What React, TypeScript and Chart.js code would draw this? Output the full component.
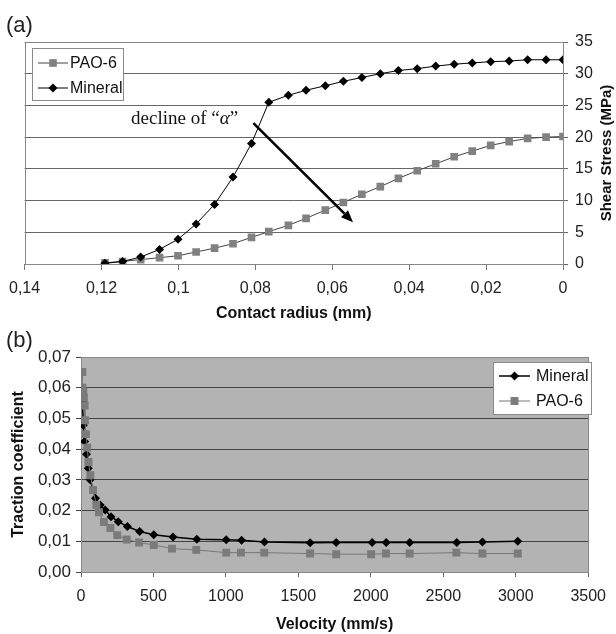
import React, { useEffect, useRef } from "react";
import { Chart, registerables } from "chart.js";
Chart.register(...registerables);

const FONT = 'Arial, "Liberation Sans", sans-serif';
const SERIF = '"Times New Roman", "Liberation Serif", serif';

// ---------- Panel (a): shear stress vs contact radius ----------
const radiusMm = [0.1191, 0.1145, 0.1098, 0.1049, 0.1001, 0.0954, 0.0906, 0.0858, 0.081, 0.0765, 0.0714, 0.0668, 0.0618, 0.0571, 0.0523, 0.0475, 0.0428, 0.0379, 0.0331, 0.0283, 0.0236, 0.0188, 0.014, 0.0092, 0.0044, 0];
const mineralShear = [0.1, 0.4, 1.1, 2.3, 3.9, 6.3, 9.4, 13.7, 19.0, 25.5, 26.6, 27.4, 28.1, 28.8, 29.4, 30.0, 30.5, 30.8, 31.2, 31.5, 31.7, 31.9, 32.0, 32.2, 32.2, 32.2];
const paoShear = [0.2, 0.4, 0.7, 1.0, 1.3, 1.9, 2.5, 3.2, 4.2, 5.1, 6.1, 7.2, 8.5, 9.7, 11.0, 12.2, 13.5, 14.7, 15.8, 16.9, 17.8, 18.7, 19.3, 19.8, 20.0, 20.1];
const arrowFrom = [0.0805, 22.2];
const arrowTo = [0.0546, 6.6];
const noteAt = [0.0984, 22.9];

// ---------- Panel (b): traction coefficient vs velocity ----------
const mineralVel = [10, 16, 25, 38, 50, 63, 100, 133, 167, 207, 257, 320, 405, 502, 635, 799, 1002, 1108, 1266, 1581, 1761, 2009, 2106, 2268, 2593, 2770, 3014];
const mineralTrac = [0.0555, 0.0478, 0.0425, 0.0383, 0.0338, 0.03, 0.024, 0.0218, 0.0202, 0.018, 0.0164, 0.0148, 0.0132, 0.0121, 0.0114, 0.0107, 0.0105, 0.0103, 0.0098, 0.0095, 0.0096, 0.0096, 0.0096, 0.0096, 0.0096, 0.0098, 0.01];
const paoVel = [9, 10, 16, 20, 25, 27, 34, 43, 52, 65, 83, 106, 124, 158, 203, 250, 315, 401, 502, 628, 795, 1002, 1104, 1264, 1581, 1761, 2002, 2104, 2268, 2590, 2770, 3014];
const paoTrac = [0.0651, 0.06, 0.0586, 0.0568, 0.0542, 0.0494, 0.0449, 0.0405, 0.0358, 0.0315, 0.0267, 0.0218, 0.0194, 0.0163, 0.0143, 0.012, 0.0106, 0.0096, 0.0088, 0.0076, 0.0072, 0.0063, 0.0063, 0.0063, 0.006, 0.0058, 0.0058, 0.006, 0.006, 0.0063, 0.006, 0.006];

function drawMarker(ctx: CanvasRenderingContext2D, style: string, x: number, y: number, r: number, color: string) {
  ctx.fillStyle = color;
  ctx.beginPath();
  if (style === "rect") {
    const s = r * Math.SQRT1_2;
    ctx.rect(x - s, y - s, 2 * s, 2 * s);
  } else {
    ctx.moveTo(x - r, y);
    ctx.lineTo(x, y - r);
    ctx.lineTo(x + r, y);
    ctx.lineTo(x, y + r);
    ctx.closePath();
  }
  ctx.fill();
}

function legendPlugin(box: any, order: number[]) {
  return {
    id: "boxLegend",
    afterDraw(chart: any) {
      const ctx = chart.ctx as CanvasRenderingContext2D;
      ctx.save();
      ctx.fillStyle = "#fff";
      ctx.fillRect(box.x, box.y, box.w, box.h);
      ctx.strokeStyle = "#8a8a8a";
      ctx.lineWidth = 1;
      ctx.strokeRect(box.x + 0.5, box.y + 0.5, box.w, box.h);
      order.forEach((di, i) => {
        const ds = chart.data.datasets[di];
        const cy = box.y + box.row0 + i * box.rowH;
        ctx.strokeStyle = ds.borderColor;
        ctx.lineWidth = ds.borderWidth;
        ctx.beginPath();
        ctx.moveTo(box.x + box.lx0, cy);
        ctx.lineTo(box.x + box.lx1, cy);
        ctx.stroke();
        drawMarker(ctx, ds.pointStyle, box.x + (box.lx0 + box.lx1) / 2, cy, ds.pointRadius, ds.pointBackgroundColor);
        ctx.fillStyle = "#111";
        ctx.font = `16px ${FONT}`;
        ctx.textAlign = "left";
        ctx.textBaseline = "middle";
        ctx.fillText(ds.label, box.x + box.tx, cy + 1);
      });
      ctx.restore();
    },
  };
}

function framePlugin(bg: string | null, color: string) {
  return {
    id: "frame",
    beforeDraw(chart: any) {
      const { ctx, chartArea: a } = chart;
      if (bg) {
        ctx.save();
        ctx.fillStyle = bg;
        ctx.fillRect(a.left, a.top, a.right - a.left, a.bottom - a.top);
        ctx.restore();
      }
    },
    beforeDatasetsDraw(chart: any) {
      const { ctx, chartArea: a } = chart;
      ctx.save();
      ctx.strokeStyle = color;
      ctx.lineWidth = 1;
      ctx.strokeRect(Math.round(a.left) + 0.5, Math.round(a.top) + 0.5, Math.round(a.right - a.left), Math.round(a.bottom - a.top));
      ctx.restore();
    },
  };
}

const annotationPlugin = {
  id: "annot",
  afterDraw(chart: any) {
    const ctx = chart.ctx as CanvasRenderingContext2D;
    const xs = chart.scales.x;
    const ys = chart.scales.y;
    const x0 = xs.getPixelForValue(arrowFrom[0]);
    const y0 = ys.getPixelForValue(arrowFrom[1]);
    const x1 = xs.getPixelForValue(arrowTo[0]);
    const y1 = ys.getPixelForValue(arrowTo[1]);
    ctx.save();
    ctx.strokeStyle = "#000";
    ctx.fillStyle = "#000";
    ctx.lineWidth = 2.6;
    const ang = Math.atan2(y1 - y0, x1 - x0);
    const hl = 12;
    const hw = 5;
    const bx = x1 - hl * Math.cos(ang);
    const by = y1 - hl * Math.sin(ang);
    ctx.beginPath();
    ctx.moveTo(x0, y0);
    ctx.lineTo(bx, by);
    ctx.stroke();
    ctx.beginPath();
    ctx.moveTo(x1, y1);
    ctx.lineTo(bx + hw * Math.sin(ang), by - hw * Math.cos(ang));
    ctx.lineTo(bx - hw * Math.sin(ang), by + hw * Math.cos(ang));
    ctx.closePath();
    ctx.fill();

    // text "decline of “α”"
    const parts: [string, string][] = [
      ["decline of \u201C", `19px ${SERIF}`],
      ["\u03B1", `italic 19px ${SERIF}`],
      ["\u201D", `19px ${SERIF}`],
    ];
    let total = 0;
    parts.forEach(([t, f]) => {
      ctx.font = f;
      total += ctx.measureText(t).width;
    });
    let tx = xs.getPixelForValue(noteAt[0]) - total / 2;
    const ty = ys.getPixelForValue(noteAt[1]);
    ctx.textBaseline = "middle";
    ctx.textAlign = "left";
    ctx.fillStyle = "#111";
    parts.forEach(([t, f]) => {
      ctx.font = f;
      ctx.fillText(t, tx, ty);
      tx += ctx.measureText(t).width;
    });

    // right axis title, reading bottom-to-top
    const a = chart.chartArea;
    ctx.translate(607, (a.top + a.bottom) / 2);
    ctx.rotate(-Math.PI / 2);
    ctx.font = `bold 15px ${FONT}`;
    ctx.textAlign = "center";
    ctx.textBaseline = "middle";
    ctx.fillStyle = "#111";
    ctx.fillText("Shear Stress (MPa)", 0, 0);
    ctx.restore();
  },
};

const fmtA = (v: any) => String(Math.round(Number(v) * 1000) / 1000).replace(".", ",");
const fmtB = (v: any) => Number(v).toFixed(2).replace(".", ",");

export default function App() {
  const refA = useRef<HTMLCanvasElement>(null);
  const refB = useRef<HTMLCanvasElement>(null);

  useEffect(() => {
    const chartA = new Chart(refA.current as HTMLCanvasElement, {
      type: "line",
      data: {
        datasets: [
          {
            label: "Mineral",
            data: radiusMm.map((x, i) => ({ x, y: mineralShear[i] })),
            borderColor: "#000",
            borderWidth: 1,
            pointStyle: "rectRot",
            pointRadius: 4.5,
            pointBackgroundColor: "#000",
            pointBorderWidth: 0,
            tension: 0,
          },
          {
            label: "PAO-6",
            data: radiusMm.map((x, i) => ({ x, y: paoShear[i] })),
            borderColor: "#444",
            borderWidth: 1,
            pointStyle: "rect",
            pointRadius: 5.4,
            pointBackgroundColor: "#818181",
            pointBorderWidth: 0,
            tension: 0,
          },
        ],
      } as any,
      options: {
        responsive: false,
        animation: false,
        devicePixelRatio: 1,
        layout: { padding: { left: 23, top: 42, right: 0, bottom: 0 } },
        plugins: { legend: { display: false }, tooltip: { enabled: false } },
        scales: {
          x: {
            type: "linear",
            reverse: true,
            min: 0,
            max: 0.14,
            ticks: { stepSize: 0.02, color: "#222", font: { family: FONT, size: 16 }, padding: 9, callback: fmtA, maxRotation: 0, autoSkip: false },
            grid: { drawOnChartArea: false, drawTicks: true, tickLength: 6, color: "#777" },
            border: { display: true, color: "#777" },
            title: { display: true, text: "Contact radius (mm)", color: "#111", font: { family: FONT, size: 16, weight: "bold" }, padding: { top: 0, bottom: 2 } },
            afterFit: (s: any) => { s.height = 61; },
          },
          y: {
            position: "right",
            min: 0,
            max: 35,
            ticks: { stepSize: 5, color: "#222", font: { family: FONT, size: 16 }, padding: 7 },
            grid: { color: "#666", drawTicks: true, tickLength: 5 },
            border: { display: true, color: "#777" },
            afterFit: (s: any) => { s.width = 53; },
          },
        },
      } as any,
      plugins: [
        framePlugin(null, "#888"),
        legendPlugin({ x: 32, y: 48, w: 91, h: 52, row0: 15, rowH: 25, lx0: 6, lx1: 36, tx: 38 }, [1, 0]),
        annotationPlugin,
      ],
    });

    const chartB = new Chart(refB.current as HTMLCanvasElement, {
      type: "line",
      data: {
        datasets: [
          {
            label: "PAO-6",
            data: paoVel.map((x, i) => ({ x, y: paoTrac[i] })),
            borderColor: "#777",
            borderWidth: 1,
            pointStyle: "rect",
            pointRadius: 5.6,
            pointBackgroundColor: "#7b7b7b",
            pointBorderWidth: 0,
            tension: 0,
          },
          {
            label: "Mineral",
            data: mineralVel.map((x, i) => ({ x, y: mineralTrac[i] })),
            borderColor: "#000",
            borderWidth: 1.5,
            pointStyle: "rectRot",
            pointRadius: 4.5,
            pointBackgroundColor: "#000",
            pointBorderWidth: 0,
            tension: 0,
          },
        ],
      } as any,
      options: {
        responsive: false,
        animation: false,
        devicePixelRatio: 1,
        layout: { padding: { left: 0, top: 37, right: 16, bottom: 0 } },
        plugins: { legend: { display: false }, tooltip: { enabled: false } },
        scales: {
          x: {
            type: "linear",
            min: 0,
            max: 3500,
            ticks: { stepSize: 500, color: "#222", font: { family: FONT, size: 16 }, padding: 10, callback: (v: any) => String(v), maxRotation: 0, autoSkip: false },
            grid: { drawOnChartArea: false, drawTicks: true, tickLength: 5, color: "#666" },
            border: { display: true, color: "#555" },
            title: { display: true, text: "Velocity (mm/s)", color: "#111", font: { family: FONT, size: 16, weight: "bold" }, padding: { top: 0, bottom: 0 } },
            afterFit: (s: any) => { s.height = 62; },
          },
          y: {
            min: 0,
            max: 0.07,
            ticks: { stepSize: 0.01, color: "#222", font: { family: FONT, size: 17 }, padding: 5, callback: fmtB },
            grid: { color: "#444", drawTicks: true, tickLength: 5 },
            border: { display: true, color: "#555" },
            title: { display: true, text: "Traction coefficient", color: "#111", font: { family: FONT, size: 16, weight: "bold" }, padding: { top: 9, bottom: 0 } },
            afterFit: (s: any) => { s.width = 81; },
          },
        },
      } as any,
      plugins: [
        framePlugin("#b3b3b3", "#888"),
        legendPlugin({ x: 493, y: 42, w: 98, h: 52, row0: 14, rowH: 25, lx0: 6, lx1: 37, tx: 43 }, [1, 0]),
      ],
    });

    return () => {
      chartA.destroy();
      chartB.destroy();
    };
  }, []);

  return (
    <div style={{ position: "absolute", left: 0, top: 0, width: 616, height: 634, background: "#fff", fontFamily: FONT, overflow: "hidden" }}>
      <canvas ref={refA} width={616} height={325} style={{ position: "absolute", left: 0, top: 0, width: 616, height: 325 }} />
      <canvas ref={refB} width={616} height={314} style={{ position: "absolute", left: 0, top: 320, width: 616, height: 314 }} />
      <div style={{ position: "absolute", left: 6, top: 14, fontSize: 22, lineHeight: "22px", color: "#222" }}>(a)</div>
      <div style={{ position: "absolute", left: 6, top: 329, fontSize: 22, lineHeight: "22px", color: "#222" }}>(b)</div>
    </div>
  );
}
